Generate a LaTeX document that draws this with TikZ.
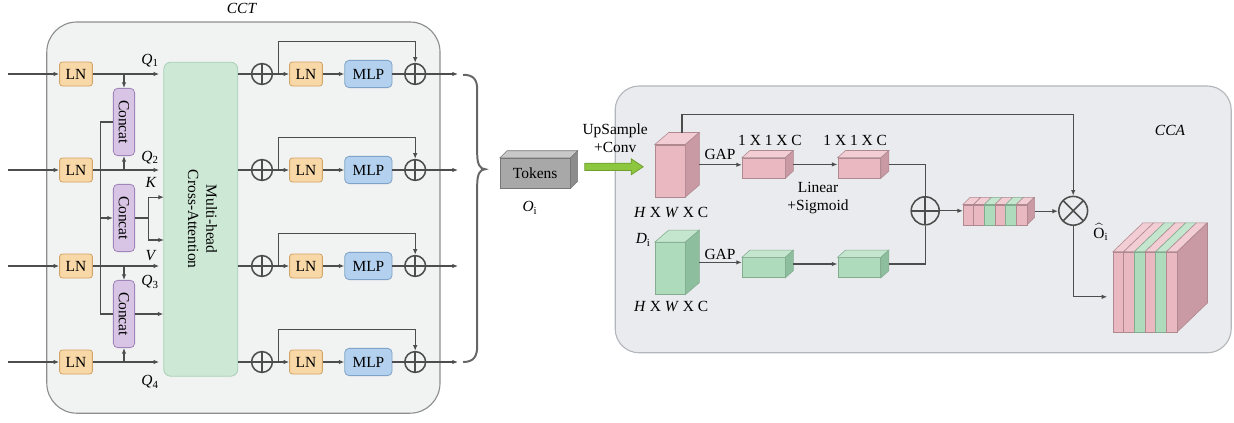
\documentclass[tikz,border=0pt]{standalone}
\usepackage{fontspec}
\setmainfont{Liberation Serif}
\usepackage{graphicx}
\usetikzlibrary{arrows.meta}

\definecolor{linegray}{HTML}{4D4D4D}
\definecolor{cctfill}{HTML}{F1F2F2}
\definecolor{cctline}{HTML}{8E8E8E}
\definecolor{ccafill}{HTML}{E9EBEE}
\definecolor{ccaline}{HTML}{B3B6BA}
\definecolor{lnfill}{HTML}{F8D8A6}
\definecolor{lnline}{HTML}{D2A467}
\definecolor{catfill}{HTML}{D8C4E4}
\definecolor{catline}{HTML}{A186BC}
\definecolor{attfill}{HTML}{CDE8D5}
\definecolor{attline}{HTML}{A9D0B6}
\definecolor{mlpfill}{HTML}{B3D1EE}
\definecolor{mlpline}{HTML}{7FA3C8}
\definecolor{convfill}{HTML}{8DC63F}
\definecolor{convline}{HTML}{6E9E2E}
\definecolor{frontpk}{HTML}{E9B8C1}
\definecolor{toppk}{HTML}{F2CDD3}
\definecolor{sidepk}{HTML}{C99AA3}
\definecolor{linepk}{HTML}{B08890}
\definecolor{frontgr}{HTML}{ADDBBB}
\definecolor{topgr}{HTML}{C4E6CE}
\definecolor{sidegr}{HTML}{8DBE9D}
\definecolor{linegr}{HTML}{84AC90}
\definecolor{frontgy}{HTML}{A8A8A8}
\definecolor{topgy}{HTML}{C8C8C8}
\definecolor{sidegy}{HTML}{8C8C8C}
\definecolor{linegy}{HTML}{777777}

% name, centre, width, height, depth x, depth y, colour, text
\newcommand{\cuboid}[8]{%
  \node[draw=line#7, fill=front#7, minimum width=#3, minimum height=#4, inner sep=0pt] (#1) at #2 {#8};
  \filldraw[fill=top#7, draw=line#7] (#1.north west) -- ++(#5,#6) -- ([shift={(#5,#6)}]#1.north east) -- (#1.north east) -- cycle;
  \filldraw[fill=side#7, draw=line#7] (#1.north east) -- ++(#5,#6) -- ([shift={(#5,#6)}]#1.south east) -- (#1.south east) -- cycle;
  \coordinate (#1-r) at ([shift={(#5,0.5*#6)}]#1.east);
}

\begin{document}
\begin{tikzpicture}[font=\fontsize{11}{13}\selectfont,
  >={Latex[length=4pt,width=3.2pt]},
  conn/.style={draw=linegray, line width=0.8pt},
  lnbox/.style={draw=lnline, fill=lnfill, line width=0.6pt, rounded corners=2pt, minimum width=0.82cm, minimum height=0.6cm, inner sep=0pt},
  catbox/.style={draw=catline, fill=catfill, line width=0.6pt, rounded corners=3pt, minimum width=0.53cm, minimum height=1.68cm, inner sep=0pt},
  attbox/.style={draw=attline, fill=attfill, line width=0.6pt, rounded corners=5pt, minimum width=1.85cm, minimum height=7.85cm, inner sep=0pt},
  mlpbox/.style={draw=mlpline, fill=mlpfill, line width=0.6pt, rounded corners=3pt, minimum width=1.18cm, minimum height=0.68cm, inner sep=0pt},
  addop/.style={circle, draw=linegray, line width=1.1pt, minimum size=0.52cm, inner sep=0pt,
    path picture={\draw[linegray, line width=1.1pt] (path picture bounding box.north) -- (path picture bounding box.south) (path picture bounding box.west) -- (path picture bounding box.east);}},
  mulop/.style={circle, draw=linegray, line width=1.1pt, minimum size=0.72cm, inner sep=0pt,
    path picture={\draw[linegray, line width=1.1pt] (path picture bounding box.north west) -- (path picture bounding box.south east) (path picture bounding box.north east) -- (path picture bounding box.south west);}}]
\useasboundingbox (0,0) rectangle (30.85,10.55);

% CCT block
\draw[draw=cctline, fill=cctfill, line width=0.8pt, rounded corners=0.75cm] (1.17,0.22) rectangle (11.0,10.0);
\node (cctlabel) at (6.05,10.35) {\textit{CCT}};

\coordinate (in1) at (0.2,8.7);
\coordinate (in2) at (0.2,6.3);
\coordinate (in3) at (0.2,3.9);
\coordinate (in4) at (0.2,1.5);

\node[lnbox] (ln1) at (1.9,8.7) {LN};
\node[lnbox] (ln2) at (1.9,6.3) {LN};
\node[lnbox] (ln3) at (1.9,3.9) {LN};
\node[lnbox] (ln4) at (1.9,1.5) {LN};

\node[catbox] (cat1) at (3.1,7.5) {\rotatebox{-90}{Concat}};
\node[catbox] (cat2) at (3.1,5.1) {\rotatebox{-90}{Concat}};
\node[catbox] (cat3) at (3.1,2.7) {\rotatebox{-90}{Concat}};

\node[attbox] (att) at (5.02,5.07) {\rotatebox{-90}{\begin{tabular}{@{}c@{}}Multi-head\\Cross-Attention\end{tabular}}};

\node (q1) at (3.75,9.03) {\textit{Q}\textsubscript{1}};
\node (q2) at (3.75,6.62) {\textit{Q}\textsubscript{2}};
\node (klabel) at (3.78,5.98) {\textit{K}};
\node (vlabel) at (3.78,4.17) {\textit{V}};
\node (q3) at (3.75,3.5) {\textit{Q}\textsubscript{3}};
\node (q4) at (3.75,1.0) {\textit{Q}\textsubscript{4}};

\coordinate (cj) at (2.52,5.1);
\coordinate (kv) at (3.72,5.1);
\coordinate (kin) at (4.1,5.62);
\coordinate (vin) at (4.1,4.55);

\draw[conn,->] (in1) -- (ln1);
\draw[conn,->] (in2) -- (ln2);
\draw[conn,->] (in3) -- (ln3);
\draw[conn,->] (in4) -- (ln4);
\draw[conn,->,shorten >=3pt] (ln1) -- (ln1 -| att.west);
\draw[conn,->,shorten >=3pt] (ln2) -- (ln2 -| att.west);
\draw[conn,->,shorten >=3pt] (ln3) -- (ln3 -| att.west);
\draw[conn,->,shorten >=3pt] (ln4) -- (ln4 -| att.west);
\draw[conn,->] (cat1.north |- ln1) -- (cat1.north);
\draw[conn,->] (cat1.south |- ln2) -- (cat1.south);
\draw[conn,->] (cat3.north |- ln3) -- (cat3.north);
\draw[conn,->] (cat3.south |- ln4) -- (cat3.south);
\draw[conn] (cat1.west) -| (cj) |- (cat3.west);
\draw[conn,->] (cj) -- (cat2.west);
\draw[conn] (cat2.east) -- (kv);
\draw[conn,->] (kv) |- (kin);
\draw[conn,->] (kv) |- (vin);
\draw[conn,->] (cat3.east) -- (cat3.east -| att.west);

\node[addop] (add1) at (6.55,8.7) {};
\node[addop] (add2) at (6.55,6.3) {};
\node[addop] (add3) at (6.55,3.9) {};
\node[addop] (add4) at (6.55,1.5) {};
\node[lnbox] (lnb1) at (7.65,8.7) {LN};
\node[lnbox] (lnb2) at (7.65,6.3) {LN};
\node[lnbox] (lnb3) at (7.65,3.9) {LN};
\node[lnbox] (lnb4) at (7.65,1.5) {LN};
\node[mlpbox] (mlp1) at (9.21,8.7) {MLP};
\node[mlpbox] (mlp2) at (9.21,6.3) {MLP};
\node[mlpbox] (mlp3) at (9.21,3.9) {MLP};
\node[mlpbox] (mlp4) at (9.21,1.5) {MLP};
\node[addop] (res1) at (10.38,8.7) {};
\node[addop] (res2) at (10.38,6.3) {};
\node[addop] (res3) at (10.38,3.9) {};
\node[addop] (res4) at (10.38,1.5) {};

\coordinate (sk1) at (6.97,8.7);
\coordinate (sk2) at (6.97,6.3);
\coordinate (sk3) at (6.97,3.9);
\coordinate (sk4) at (6.97,1.5);
\coordinate (out1) at (11.45,8.7);
\coordinate (out2) at (11.45,6.3);
\coordinate (out3) at (11.45,3.9);
\coordinate (out4) at (11.45,1.5);

\draw[conn] (add1 -| att.east) -- (add1);
\draw[conn] (add2 -| att.east) -- (add2);
\draw[conn] (add3 -| att.east) -- (add3);
\draw[conn] (add4 -| att.east) -- (add4);
\draw[conn,->] (add1) -- (lnb1);
\draw[conn,->] (add2) -- (lnb2);
\draw[conn,->] (add3) -- (lnb3);
\draw[conn,->] (add4) -- (lnb4);
\draw[conn,->] (sk1) |- ([yshift=0.53cm]res1.north) -- (res1.north);
\draw[conn,->] (sk2) |- ([yshift=0.53cm]res2.north) -- (res2.north);
\draw[conn,->] (sk3) |- ([yshift=0.53cm]res3.north) -- (res3.north);
\draw[conn,->] (sk4) |- ([yshift=0.53cm]res4.north) -- (res4.north);
\draw[conn,->] (lnb1) -- (mlp1);
\draw[conn,->] (lnb2) -- (mlp2);
\draw[conn,->] (lnb3) -- (mlp3);
\draw[conn,->] (lnb4) -- (mlp4);
\draw[conn] (mlp1) -- (res1);
\draw[conn] (mlp2) -- (res2);
\draw[conn] (mlp3) -- (res3);
\draw[conn] (mlp4) -- (res4);
\draw[conn,->] (res1) -- (out1);
\draw[conn,->] (res2) -- (out2);
\draw[conn,->] (res3) -- (out3);
\draw[conn,->] (res4) -- (out4);

% brace gathering the four outputs
\draw[draw=gray!80!black, line width=1.4pt]
  (11.58,8.68) .. controls (11.85,8.68) and (11.93,8.55) .. (11.93,8.3)
  -- (11.93,6.7) .. controls (11.93,6.45) and (12.0,6.32) .. (12.13,6.32)
  .. controls (12.0,6.32) and (11.93,6.19) .. (11.93,5.94)
  -- (11.93,1.9) .. controls (11.93,1.65) and (11.85,1.5) .. (11.58,1.5);

% tokens
\cuboid{tok}{(13.38,6.22)}{1.75cm}{0.75cm}{0.18cm}{0.18cm}{gy}{Tokens}
\node (oi) at (13.25,5.35) {\textit{O}\textsubscript{i}};

% CCA block
\draw[draw=ccaline, fill=ccafill, line width=0.8pt, rounded corners=0.6cm] (15.38,1.73) rectangle (30.78,8.4);
\node (ccalabel) at (29.25,7.3) {\textit{CCA}};

\filldraw[fill=convfill, draw=convline, line width=0.5pt] (14.62,6.29) -- (15.78,6.29) -- (15.78,6.18) -- (16.08,6.38) -- (15.78,6.58) -- (15.78,6.47) -- (14.62,6.47) -- cycle;
\node[align=center] (upconv) at (15.38,7.1) {UpSample\\+Conv};

\cuboid{pkbig}{(16.75,6.28)}{0.75cm}{1.3cm}{0.35cm}{0.3cm}{pk}{}
\cuboid{grbig}{(16.75,3.84)}{0.75cm}{1.3cm}{0.35cm}{0.3cm}{gr}{}
\cuboid{pk1}{(19.09,6.35)}{1.07cm}{0.5cm}{0.2cm}{0.18cm}{pk}{}
\cuboid{pk2}{(21.48,6.35)}{1.07cm}{0.5cm}{0.2cm}{0.18cm}{pk}{}
\cuboid{gr1}{(19.09,3.86)}{1.07cm}{0.5cm}{0.2cm}{0.18cm}{gr}{}
\cuboid{gr2}{(21.48,3.86)}{1.07cm}{0.5cm}{0.2cm}{0.18cm}{gr}{}

\node (hwc1) at (16.78,5.25) {\textit{H} X \textit{W} X C};
\node (hwc2) at (16.78,2.88) {\textit{H} X \textit{W} X C};
\node (di) at (16.08,4.55) {\textit{D}\textsubscript{i}};
\node (gap1) at (18.0,6.68) {GAP};
\node (gap2) at (18.0,4.2) {GAP};
\node (dim1) at (19.25,7.05) {1 X 1 X C};
\node (dim2) at (21.38,7.05) {1 X 1 X C};
\node[align=center] (linsig) at (20.45,5.6) {Linear\\+Sigmoid};

\node[addop, minimum size=0.7cm] (add5) at (23.13,5.28) {};
\node[mulop] (mul) at (26.83,5.28) {};

% channel weights
\node[minimum width=1.6cm, minimum height=0.5cm, inner sep=0pt] (bar) at (24.88,5.18) {};
\foreach \c [count=\k from 0] in {pk,pk,gr,pk,gr,pk} {
  \filldraw[fill=front\c, draw=line\c] ([xshift=\k*0.267cm]bar.south west) rectangle ++(0.267,0.5);
  \filldraw[fill=top\c, draw=line\c] ([xshift=\k*0.267cm]bar.north west) -- ++(0.18,0.18) -- ++(0.267,0) -- ++(-0.18,-0.18) -- cycle;
}
\filldraw[fill=sidepk, draw=linepk] (bar.north east) -- ++(0.18,0.18) -- ++(0,-0.5) -- ++(-0.18,-0.18) -- cycle;
\coordinate (bar-r) at ([shift={(0.18,0.09)}]bar.east);

% output feature map
\node[minimum width=1.6cm, minimum height=2cm, inner sep=0pt] (big) at (28.63,3.25) {};
\foreach \c [count=\k from 0] in {pk,pk,gr,pk,gr,pk} {
  \filldraw[fill=front\c, draw=line\c] ([xshift=\k*0.267cm]big.south west) rectangle ++(0.267,2);
  \filldraw[fill=top\c, draw=line\c] ([xshift=\k*0.267cm]big.north west) -- ++(0.75,0.72) -- ++(0.267,0) -- ++(-0.75,-0.72) -- cycle;
}
\filldraw[fill=sidepk, draw=linepk] (big.north east) -- ++(0.75,0.72) -- ++(0,-2) -- ++(-0.75,-0.72) -- cycle;
\node (ohat) at (27.52,4.75) {$\widehat{\mathrm{O}}_{\mathrm{i}}$};

\draw[conn,->] (pkbig-r) -- (pkbig-r -| pk1.west);
\draw[conn,->] (grbig-r) -- (grbig-r -| gr1.west);
\draw[conn,->] (pk1-r) -- (pk1-r -| pk2.west);
\draw[conn,->] (gr1-r) -- (gr1-r -| gr2.west);
\draw[conn] (pk2-r) -| (add5.north);
\draw[conn] (gr2-r) -| (add5.south);
\draw[conn,->] (add5) -- (add5 -| bar.west);
\draw[conn,->] (bar-r) -- (bar-r -| mul.west);
\draw[conn,->] ([shift={(0.3cm,0.3cm)}]pkbig.north) -- ++(0,0.45) -| (mul.north);
\draw[conn,->,shorten >=4pt] (mul.south) |- ([yshift=-0.12cm]big.west);
\end{tikzpicture}
\end{document}
